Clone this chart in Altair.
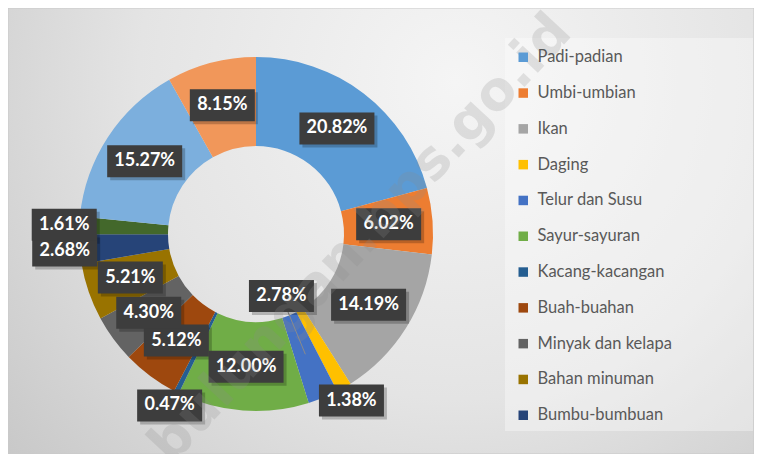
import altair as alt
import pandas as pd

# ---- data ----
categories = [
    "Padi-padian", "Umbi-umbian", "Ikan", "Daging", "Telur dan Susu",
    "Sayur-sayuran", "Kacang-kacangan", "Buah-buahan", "Minyak dan kelapa",
    "Bahan minuman", "Bumbu-bumbuan", "Konsumsi lainnya",
    "Makanan dan minuman jadi", "Tembakau dan sirih",
]
shares = [20.82, 6.02, 14.19, 1.38, 2.78, 12.00, 0.47, 5.12, 4.30, 5.21, 2.68, 1.61, 15.27, 8.15]
legend_shown = categories[:11]

# ---- style / layout ----
colors = [
    "#5B9BD5", "#ED7D31", "#A5A5A5", "#FFC000", "#4472C4", "#70AD47",
    "#255E91", "#9E480E", "#636363", "#997300", "#264478", "#43682B",
    "#7CAFDD", "#F1975A",
]
label_place = ["ring", "ring", "ring", "out", "in", "ring", "out",
               "ring", "ring", "ring", "out", "out", "ring", "ring"]

W, H = 746, 446
CX, CY = 248, 226
R_IN, R_OUT = 88, 177
R_RING, R_OUTSIDE, R_INSIDE = 133, 192, 67

df = pd.DataFrame({
    "cat": categories,
    "share": shares,
    "place": label_place,
    "idx": list(range(len(categories))),
})
one = pd.DataFrame({"k": [0]})

xs = alt.Scale(domain=[0, W], nice=False, zero=False)
ys = alt.Scale(domain=[0, H], nice=False, zero=False, reverse=True)

def X(f):
    return alt.X(f, type="quantitative", scale=xs, axis=None)

def Y(f):
    return alt.Y(f, type="quantitative", scale=ys, axis=None)

# background with radial gradient
bg = alt.Chart(one).mark_rect(
    fill=alt.RadialGradient(
        gradient="radial",
        stops=[alt.GradientStop(color="#F5F5F5", offset=0),
               alt.GradientStop(color="#E4E4E4", offset=0.5),
               alt.GradientStop(color="#C3C3C3", offset=1)],
        x1=0.6, y1=0.3, r1=0, x2=0.6, y2=0.3, r2=0.85,
    ),
    stroke="#C9C9C9", strokeWidth=1,
).encode(
    x=alt.X(datum=0, type="quantitative", scale=xs, axis=None),
    x2=alt.X2(datum=W),
    y=alt.Y(datum=0, type="quantitative", scale=ys, axis=None),
    y2=alt.Y2(datum=H),
)

legend_bg = alt.Chart(one).mark_rect(fill="#FFFFFF", opacity=0.35).encode(
    x=alt.X(datum=497, type="quantitative", scale=xs, axis=None),
    x2=alt.X2(datum=745),
    y=alt.Y(datum=30, type="quantitative", scale=ys, axis=None),
    y2=alt.Y2(datum=423),
)

arcs = alt.Chart(df).mark_arc(innerRadius=R_IN, outerRadius=R_OUT, stroke=None).encode(
    theta=alt.Theta("share:Q", stack=True),
    order=alt.Order("idx:Q"),
    color=alt.Color(
        "cat:N",
        scale=alt.Scale(domain=categories, range=colors),
        legend=alt.Legend(values=legend_shown, title=None),
        sort=categories,
    ),
    x=alt.X(datum=CX, type="quantitative", scale=xs, axis=None),
    y=alt.Y(datum=CY, type="quantitative", scale=ys, axis=None),
)

lab = (
    alt.Chart(df)
    .transform_joinaggregate(total="sum(share)")
    .transform_window(cum="sum(share)", sort=[alt.SortField("idx")], frame=[None, 0])
    .transform_calculate(mid="(datum.cum - datum.share/2) / datum.total * 2 * PI")
    .transform_calculate(
        r=f"datum.place == 'out' ? {R_OUTSIDE} : (datum.place == 'in' ? {R_INSIDE} : {R_RING})"
    )
    .transform_calculate(lx=f"{CX} + datum.r * sin(datum.mid)")
    .transform_calculate(ly=f"{CY} - datum.r * cos(datum.mid)")
    .transform_calculate(label="format(datum.share, '.2f') + '%'")
    .transform_calculate(bw="length(datum.label) * 10 + 15")
    .transform_calculate(bx1="datum.lx - datum.bw / 2")
    .transform_calculate(bx2="datum.lx + datum.bw / 2")
    .transform_calculate(by1="datum.ly - 16")
    .transform_calculate(by2="datum.ly + 16")
    .transform_calculate(sx1="datum.bx1 + 3", sx2="datum.bx2 + 3",
                         sy1="datum.by1 + 3", sy2="datum.by2 + 3")
)

leader = (
    lab.transform_filter("datum.place == 'in'")
    .transform_calculate(l1x=f"{CX} + 84 * sin(datum.mid)")
    .transform_calculate(l1y=f"{CY} - 84 * cos(datum.mid)")
    .transform_calculate(l2x=f"{CX} + 130 * sin(datum.mid)")
    .transform_calculate(l2y=f"{CY} - 130 * cos(datum.mid)")
    .mark_rule(color="#8A8A8A", strokeWidth=1)
    .encode(x=X("l1x"), y=Y("l1y"), x2="l2x", y2="l2y")
)

shadow = lab.mark_rect(color="#000000", opacity=0.22).encode(
    x=X("sx1"), x2="sx2", y=Y("sy1"), y2="sy2"
)
boxes = lab.mark_rect(color="#3D3D3D").encode(
    x=X("bx1"), x2="bx2", y=Y("by1"), y2="by2"
)
texts = lab.mark_text(
    font="Lato", fontSize=18, fontWeight="bold", color="#FFFFFF",
    align="center", baseline="middle",
).encode(x=X("lx"), y=Y("ly"), text="label:N")

watermark = alt.Chart(one).mark_text(
    text="www.bulungan.bps.go.id", font="DejaVu Sans", fontWeight="bold",
    fontSize=54, angle=313, color="#8C8C8C", opacity=0.22,
    align="center", baseline="middle",
).encode(
    x=alt.X(datum=296, type="quantitative", scale=xs, axis=None),
    y=alt.Y(datum=292, type="quantitative", scale=ys, axis=None),
)

chart = (
    alt.layer(bg, legend_bg, arcs, leader, shadow, boxes, texts, watermark)
    .properties(width=W, height=H, autosize=alt.AutoSizeParams(type="none"), padding=0)
    .configure_view(stroke=None)
    .configure_legend(
        orient="none", legendX=507, legendY=41, padding=0,
        symbolType="square", symbolSize=90, symbolStrokeWidth=0,
        labelFont="Lato", labelFontSize=16.5, labelColor="#595959",
        labelOffset=6, rowPadding=18.8, labelLimit=240,
    )
)

chart.save("out.html", embed_options={"renderer": "svg", "actions": False})
